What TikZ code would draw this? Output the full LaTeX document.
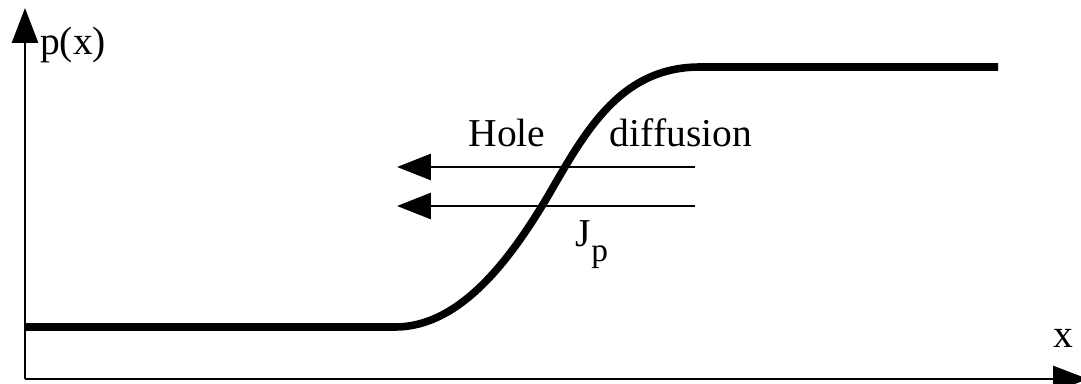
\documentclass[tikz,border=0pt]{standalone}
\usepackage{fontspec}
\setmainfont{Liberation Serif}
\usetikzlibrary{positioning, arrows.meta}
\tikzset{
  axis/.style={line width=1.7pt, -{Triangle[length=0.7cm, width=0.52cm]}},
  profile/.style={line width=4.3pt},
  fluxarrow/.style={line width=1.7pt, -{Triangle[length=0.68cm, width=0.52cm]}},
  lbl/.style={font=\fontsize{22.5}{26}\selectfont, inner sep=1pt},
}

\begin{document}
\begin{tikzpicture}[x=0.02cm, y=-0.02cm]
  \useasboundingbox (0,0) rectangle (1081,384);
  % axes
  \coordinate (origin) at (25,379);
  \coordinate (ytop) at (25,8);
  \coordinate (xend) at (1088,379);
  \draw[axis] (origin) -- (ytop);
  \draw[axis] (origin) -- (xend);
  \node[lbl] (plab) at (73,45) {p(x)};
  \node[lbl] (xlab) at (1063,338) {x};
  % hole concentration profile
  \coordinate (lowstart) at (25,327);
  \coordinate (bendlow) at (395,327);
  \coordinate (mid) at (548,196);
  \coordinate (bendhigh) at (700,67);
  \coordinate (highend) at (998,67);
  \draw[profile] (lowstart) -- (bendlow)
    .. controls (460,327) and (510,260) .. (mid)
    .. controls (585,132) and (620,67) .. (bendhigh) -- (highend);
  % diffusion current
  \coordinate (tailA) at (695,167);
  \coordinate (headA) at (397,167);
  \coordinate (tailB) at (695,206);
  \coordinate (headB) at (397,206);
  \draw[fluxarrow] (tailA) -- (headA);
  \draw[fluxarrow] (tailB) -- (headB);
  \node[lbl] (hole) at (507,133) {Hole};
  \node[lbl] (diff) at (681,133) {diffusion};
  \node[lbl] (jp) at (592,245) {J\raisebox{-0.38em}{\fontsize{19}{20}\selectfont p}};
\end{tikzpicture}
\end{document}
